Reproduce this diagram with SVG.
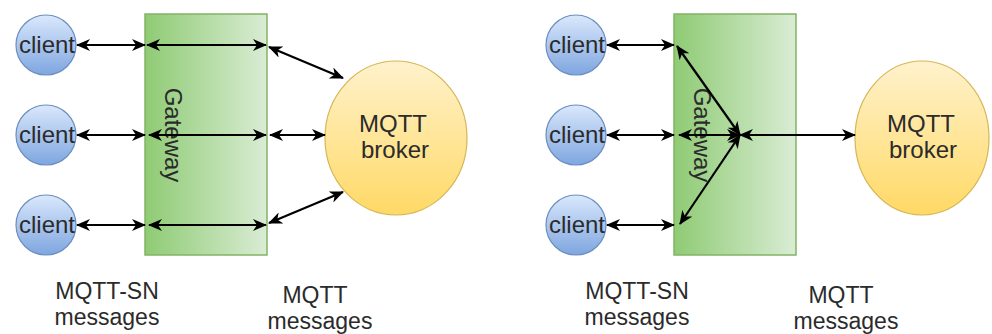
<svg xmlns="http://www.w3.org/2000/svg" width="992" height="334" viewBox="0 0 992 334">
<style>
.t{font-family:"Liberation Sans",Arial,sans-serif;fill:#2b2b2b;text-anchor:middle}
.c{fill:url(#gc);stroke:#6c8ebf;stroke-width:1.2}
.b{fill:url(#gb);stroke:#d6b656;stroke-width:1.2}
.g{fill:url(#gg);stroke:#82b366;stroke-width:1.5}
.a{stroke:#000;stroke-width:2.2;fill:none;marker-start:url(#ar);marker-end:url(#ar)}
</style>
<defs>
<linearGradient id="gc" x1="0" y1="0" x2="0" y2="1"><stop offset="0" stop-color="#dae8fc"/><stop offset="1" stop-color="#7ea6e0"/></linearGradient>
<linearGradient id="gb" x1="0" y1="0" x2="0" y2="1"><stop offset="0" stop-color="#fff2cc"/><stop offset="1" stop-color="#ffd966"/></linearGradient>
<linearGradient id="gg" x1="0" y1="0" x2="1" y2="0"><stop offset="0" stop-color="#8fcb74"/><stop offset="1" stop-color="#d9ecd4"/></linearGradient>
<marker id="ar" viewBox="0 0 14 12" refX="13" refY="6" markerWidth="14" markerHeight="12" markerUnits="userSpaceOnUse" orient="auto-start-reverse">
<path d="M0,0 L14,6 L0,12 L4,6 z" fill="#000"/>
</marker>
</defs>
<g id="left-gateway"><rect class="g" x="145" y="14" width="122" height="241"/><text class="t" font-size="24" transform="translate(173,135) rotate(90)" x="0" y="8">Gateway</text></g>
<g id="right-gateway"><rect class="g" x="674" y="14" width="122" height="241"/><text class="t" font-size="24" transform="translate(702,135) rotate(90)" x="0" y="8">Gateway</text></g>
<g id="left-client-1"><circle class="c" cx="46" cy="45" r="30"/><text class="t" font-size="24" x="47" y="53">client</text></g>
<g id="left-client-2"><circle class="c" cx="46" cy="135" r="30"/><text class="t" font-size="24" x="47" y="143">client</text></g>
<g id="left-client-3"><circle class="c" cx="46" cy="225" r="30"/><text class="t" font-size="24" x="47" y="233">client</text></g>
<g id="right-client-1"><circle class="c" cx="576" cy="45" r="30"/><text class="t" font-size="24" x="577" y="53">client</text></g>
<g id="right-client-2"><circle class="c" cx="576" cy="135" r="30"/><text class="t" font-size="24" x="577" y="143">client</text></g>
<g id="right-client-3"><circle class="c" cx="576" cy="225" r="30"/><text class="t" font-size="24" x="577" y="233">client</text></g>
<g id="left-broker"><ellipse class="b" cx="396" cy="138" rx="71" ry="77"/><text class="t" font-size="24" x="393" y="132">MQTT</text><text class="t" font-size="24" x="395" y="158">broker</text></g>
<g id="right-broker"><ellipse class="b" cx="922" cy="138" rx="67" ry="77"/><text class="t" font-size="24" x="921" y="132">MQTT</text><text class="t" font-size="24" x="923" y="158">broker</text></g>
<g id="labels">
<text class="t" font-size="23" x="107" y="299">MQTT-SN</text>
<text class="t" font-size="23" x="107" y="325">messages</text>
<text class="t" font-size="23" x="315" y="303">MQTT</text>
<text class="t" font-size="23" x="320" y="329">messages</text>
<text class="t" font-size="23" x="637" y="299">MQTT-SN</text>
<text class="t" font-size="23" x="637" y="325">messages</text>
<text class="t" font-size="23" x="841" y="303">MQTT</text>
<text class="t" font-size="23" x="846" y="329">messages</text>
</g>
<g id="connectors">
<line class="a" x1="77" y1="45" x2="145" y2="45"/>
<line class="a" x1="77" y1="135" x2="145" y2="135"/>
<line class="a" x1="77" y1="225" x2="145" y2="225"/>
<line class="a" x1="147" y1="45" x2="266" y2="45"/>
<line class="a" x1="149" y1="135" x2="266" y2="135"/>
<line class="a" x1="149" y1="225" x2="266" y2="225"/>
<line class="a" x1="269" y1="47" x2="343" y2="78"/>
<line class="a" x1="270" y1="135" x2="325" y2="135"/>
<line class="a" x1="269" y1="223" x2="343" y2="192"/>
<line class="a" x1="607" y1="45" x2="674" y2="45"/>
<line class="a" x1="607" y1="135" x2="674" y2="135"/>
<line class="a" x1="607" y1="225" x2="674" y2="225"/>
<line class="a" x1="740" y1="135" x2="677" y2="46"/>
<line class="a" x1="740" y1="135" x2="679" y2="135"/>
<line class="a" x1="740" y1="135" x2="680" y2="224"/>
<line class="a" x1="740" y1="135" x2="855" y2="135"/>
</g>
</svg>
